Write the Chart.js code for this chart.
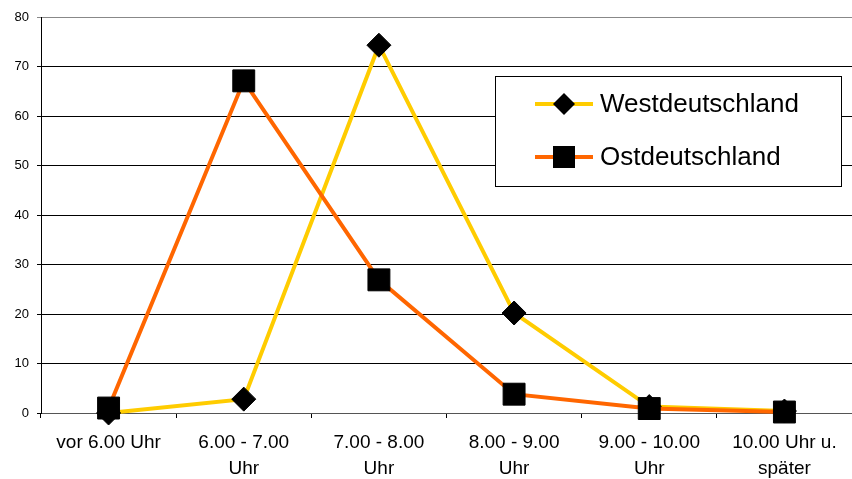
<!DOCTYPE html>
<html>
<head>
<meta charset="utf-8">
<script src="https://cdn.jsdelivr.net/npm/chart.js@4/dist/chart.umd.min.js"></script>
<style>
  html, body { margin: 0; padding: 0; background: #fff; }
  #wrap { width: 852px; height: 479px; }
</style>
</head>
<body>
<div id="wrap"><canvas id="myChart" width="852" height="479"></canvas></div>
<script>
// categories (two-line tick labels)
const categories = [
	["vor 6.00 Uhr"],
	["6.00 - 7.00", "Uhr"],
	["7.00 - 8.00", "Uhr"],
	["8.00 - 9.00", "Uhr"],
	["9.00 - 10.00", "Uhr"],
	["10.00 Uhr u.", "später"],
];
const westValues = [0, 2.8, 74.3, 20.2, 1.3, 0.4];
const ostValues = [1.0, 67.1, 26.9, 3.8, 0.9, 0.2];
const yTicks = [0, 10, 20, 30, 40, 50, 60, 70, 80];

const FONT = "'Liberation Sans', Arial, sans-serif";

// legend box drawn inside the plot, like the original
const boxLegend = {
	id: "boxLegend",
	afterDraw(chart) {
		const ctx = chart.ctx;
		const x0 = 495, y0 = 76, w = 346, h = 110;
		ctx.save();
		ctx.fillStyle = "#fff";
		ctx.fillRect(x0, y0, w, h);
		ctx.strokeStyle = "#000";
		ctx.lineWidth = 1;
		ctx.strokeRect(x0 + 0.5, y0 + 0.5, w, h);
		const rows = [
			{label: "Westdeutschland", color: "#FFCC00", y: 104, shape: "diamond"},
			{label: "Ostdeutschland", color: "#FF6600", y: 157, shape: "square"},
		];
		for (const r of rows) {
			ctx.strokeStyle = r.color;
			ctx.lineWidth = 4;
			ctx.beginPath();
			ctx.moveTo(535, r.y);
			ctx.lineTo(593, r.y);
			ctx.stroke();
			ctx.fillStyle = "#000";
			ctx.beginPath();
			if (r.shape === "diamond") {
				ctx.moveTo(564, r.y - 11);
				ctx.lineTo(575, r.y);
				ctx.lineTo(564, r.y + 11);
				ctx.lineTo(553, r.y);
			} else {
				ctx.rect(553, r.y - 11, 22, 22);
			}
			ctx.closePath();
			ctx.fill();
			ctx.font = "26px " + FONT;
			ctx.textBaseline = "middle";
			ctx.textAlign = "left";
			ctx.fillText(r.label, 600, r.y + 1);
		}
		ctx.restore();
	},
};

const context = document.querySelector("#myChart");
const chart = new Chart(context, { // eslint-disable-line no-unused-vars
	type: "line",
	data: {
		labels: categories,
		datasets: [
			{
				label: "Westdeutschland",
				data: westValues,
				borderColor: "#FFCC00",
				backgroundColor: "#000",
				borderWidth: 4,
				pointStyle: "rectRot",
				pointRadius: 12,
				pointBorderColor: "#000",
				pointBorderWidth: 1,
				pointBackgroundColor: "#000",
				tension: 0,
				clip: false,
				order: 1,
			},
			{
				label: "Ostdeutschland",
				data: ostValues,
				borderColor: "#FF6600",
				backgroundColor: "#000",
				borderWidth: 4,
				pointStyle: "rect",
				pointRadius: 15.5,
				pointBorderColor: "#000",
				pointBorderWidth: 1,
				pointBackgroundColor: "#000",
				tension: 0,
				clip: false,
				order: 0,
			},
		],
	},
	options: {
		responsive: false,
		animation: false,
		layout: {autoPadding: false, padding: {top: 17, right: 0, left: 0, bottom: 0}},
		scales: {
			x: {
				type: "category",
				offset: true,
				grid: {
					offset: true,
					drawOnChartArea: false,
					drawTicks: true,
					tickLength: 5,
					color: "#000",
				},
				border: {color: "#555", width: 1},
				ticks: {
					color: "#000",
					font: {family: FONT, size: 19, lineHeight: 1.37},
					padding: 12,
					maxRotation: 0,
					autoSkip: false,
				},
				afterFit(scale) {
					scale.height = 66;
					scale.paddingLeft = 0;
					scale.paddingRight = 0;
				},
			},
			y: {
				type: "linear",
				min: 0,
				max: 80,
				afterBuildTicks(scale) {
					scale.ticks = yTicks.map(v => ({value: v}));
				},
				grid: {
					color: ctx => ctx.tick && ctx.tick.value === 80 ? "#888" : "#000",
					lineWidth: 1,
					tickLength: 4,
				},
				border: {color: "#000", width: 1},
				ticks: {
					color: "#000",
					font: {family: FONT, size: 13},
					padding: 8,
				},
				afterFit(scale) {
					scale.width = 41;
				},
			},
		},
		plugins: {
			legend: {display: false},
			tooltip: {enabled: false},
		},
	},
	plugins: [boxLegend],
});
</script>
</body>
</html>
